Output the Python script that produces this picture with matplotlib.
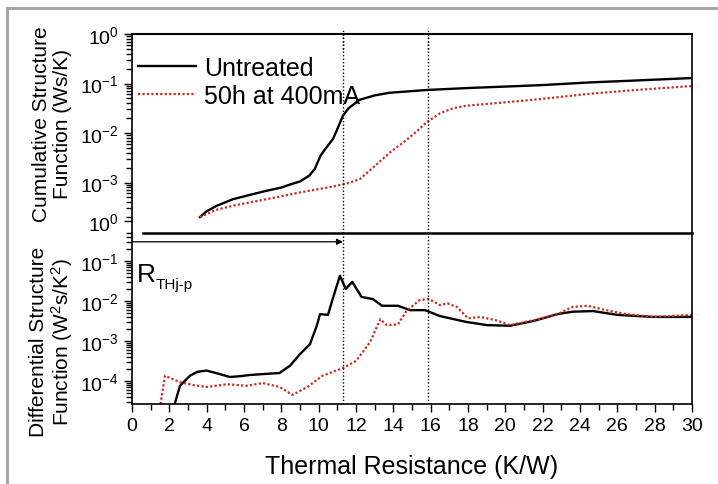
import matplotlib
matplotlib.use("Agg")
import matplotlib.pyplot as plt
from matplotlib.lines import Line2D
from matplotlib.ticker import FixedLocator, MultipleLocator, NullFormatter

plt.rcParams['font.family'] = ['Liberation Sans', 'DejaVu Sans']
plt.rcParams['mathtext.fontset'] = 'custom'
plt.rcParams['mathtext.rm'] = 'Liberation Sans'
plt.rcParams['mathtext.it'] = 'Liberation Sans:italic'
plt.rcParams['mathtext.default'] = 'regular'

# ---- data ----
labels = ["Untreated", "50h at 400mA"]

# cumulative structure function (Ws/K)
cum_untreated_r = [3.64, 4.0, 4.55, 5.41, 6.3, 7.2, 8.0, 8.46, 9.0, 9.5, 9.8,
                   10.1, 10.4, 10.77, 11.0, 11.3, 11.6, 12.2, 13.0, 13.8,
                   15.8, 18.0, 20.1, 22.0, 24.5, 27.0, 30.0]
cum_untreated = [2.0e-4, 2.63e-4, 3.4e-4, 4.6e-4, 5.6e-4, 6.8e-4, 7.9e-4,
                 9.1e-4, 1.05e-3, 1.38e-3, 1.9e-3, 3.5e-3, 5.0e-3, 7.6e-3,
                 1.2e-2, 2.24e-2, 3.16e-2, 4.7e-2, 5.75e-2, 6.5e-2, 7.4e-2,
                 8.1e-2, 8.7e-2, 9.3e-2, 0.105, 0.115, 0.129]
cum_treated_r = [3.64, 4.5, 5.41, 7.2, 9.0, 10.77, 11.5, 12.2, 12.6, 13.2,
                 13.8, 14.7, 15.3, 15.8, 16.5, 17.2, 17.9, 20.1, 22.0, 24.5,
                 27.0, 30.0]
cum_treated = [2.0e-4, 2.8e-4, 3.4e-4, 4.6e-4, 6.3e-4, 8.3e-4, 9.5e-4,
               1.17e-3, 1.58e-3, 2.5e-3, 4.0e-3, 7.2e-3, 1.12e-2, 1.66e-2,
               2.5e-2, 3.16e-2, 3.55e-2, 4.2e-2, 4.9e-2, 6.2e-2, 7.4e-2, 8.9e-2]

# differential structure function (W^2s/K^2)
diff_untreated_r = [2.15, 2.57, 3.1, 3.5, 4.0, 4.5, 5.25, 5.8, 6.3, 7.2, 7.9,
                    8.46, 9.0, 9.53, 9.9, 10.07, 10.5, 10.75, 11.14, 11.45,
                    11.8, 12.3, 12.9, 13.4, 14.25, 14.9, 15.7, 16.5, 17.9,
                    19.0, 20.25, 21.5, 22.8, 23.6, 24.7, 26.0, 27.9, 30.0]
diff_untreated = [1.6e-5, 7.6e-5, 1.35e-4, 1.7e-4, 1.82e-4, 1.58e-4, 1.26e-4,
                  1.32e-4, 1.41e-4, 1.51e-4, 1.58e-4, 2.4e-4, 4.7e-4, 8.3e-4,
                  2.4e-3, 4.7e-3, 4.5e-3, 1.12e-2, 4.3e-2, 2.0e-2, 3.0e-2,
                  1.26e-2, 1.12e-2, 7.6e-3, 7.6e-3, 5.9e-3, 5.9e-3, 4.2e-3,
                  3.0e-3, 2.5e-3, 2.4e-3, 3.16e-3, 4.7e-3, 5.4e-3, 5.6e-3,
                  4.5e-3, 4.0e-3, 4.0e-3]
diff_treated_r = [1.45, 1.77, 2.57, 3.3, 4.0, 5.1, 6.15, 7.0, 7.9, 8.6, 9.4,
                  10.2, 11.3, 12.0, 12.75, 13.3, 13.65, 14.25, 14.7, 15.4,
                  15.9, 16.5, 16.9, 17.4, 18.0, 18.65, 19.5, 20.25, 21.5,
                  22.8, 23.6, 24.4, 25.4, 26.5, 27.9, 30.0]
diff_treated = [1.6e-5, 1.35e-4, 9.3e-5, 7.9e-5, 7.1e-5, 8.3e-5, 7.6e-5,
                8.9e-5, 7.1e-5, 4.5e-5, 7.1e-5, 1.35e-4, 2.1e-4, 3.16e-4,
                9.3e-4, 3.5e-3, 2.5e-3, 2.6e-3, 5.6e-3, 1.05e-2, 1.12e-2,
                7.9e-3, 8.7e-3, 7.1e-3, 3.7e-3, 4.0e-3, 3.3e-3, 2.5e-3,
                3.3e-3, 4.7e-3, 7.1e-3, 7.6e-3, 5.9e-3, 4.7e-3, 4.0e-3, 4.5e-3]

marker_r = [11.3, 15.85]      # dotted guide lines
rth_jp = 11.3                 # end of the R_THj-p arrow

cum_ticks = [1.0, 1e-1, 1e-2, 1e-3, 10 ** -3.78]
cum_ticklabels = ["$10^{0}$", "$10^{-1}$", "$10^{-2}$", "$10^{-3}$", "$10^{0}$"]
diff_ticks = [1e-1, 1e-2, 1e-3, 1e-4]
diff_ticklabels = ["$10^{-1}$", "$10^{-2}$", "$10^{-3}$", "$10^{-4}$"]
minor_ticks = [m * 10.0 ** e for e in range(-5, 1) for m in range(2, 10)]

W, H = 718, 485
red = "#cc2a1e"


def fx(x):
    return x / W


def fy(y):
    return 1 - y / H


fig = plt.figure(figsize=(W / 100, H / 100), dpi=100)
left, right = fx(132), fx(692)
ax_top = fig.add_axes([left, fy(234), right - left, fy(35) - fy(234)])
ax_bot = fig.add_axes([left, fy(405), right - left, fy(234) - fy(405)],
                      sharex=ax_top)

ax_top.plot(cum_untreated_r, cum_untreated, color="black", lw=1.7,
            label=labels[0])
ax_top.plot(cum_treated_r, cum_treated, color=red, lw=1.6,
            ls=(0, (1, 1)), label=labels[1])
ax_bot.plot(diff_untreated_r, diff_untreated, color="black", lw=1.7)
ax_bot.plot(diff_treated_r, diff_treated, color=red, lw=1.6, ls=(0, (1, 1)))

for ax in (ax_top, ax_bot):
    ax.set_yscale("log")
    ax.set_xlim(0, 30)
    for s in ax.spines.values():
        s.set_linewidth(1.2)
    ax.tick_params(which="both", direction="out", width=1.0, labelsize=14)
    ax.tick_params(which="major", length=6)
    ax.tick_params(which="minor", length=4)
    ax.yaxis.set_minor_locator(FixedLocator(minor_ticks))
    ax.yaxis.set_minor_formatter(NullFormatter())
    for r in marker_r:
        ax.axvline(r, color="black", lw=1.0, ls=(0, (1, 1.5)))

ax_top.set_ylim(10 ** -4.02, 1.0)
ax_top.yaxis.set_major_locator(FixedLocator(cum_ticks))
ax_top.set_yticklabels(cum_ticklabels)
ax_top.spines["bottom"].set_visible(False)
ax_top.spines["top"].set_linewidth(1.5)
ax_top.tick_params(axis="x", which="both", bottom=False, labelbottom=False)
# guide lines poke above the frame
for r in marker_r:
    ax_top.plot([r, r], [0.5, 10 ** 0.12], color="black", lw=1.0,
                ls=(0, (1, 1.5)), clip_on=False)

ax_bot.set_ylim(10 ** -4.575, 10 ** -0.3)
ax_bot.yaxis.set_major_locator(FixedLocator(diff_ticks))
ax_bot.set_yticklabels(diff_ticklabels)
ax_bot.spines["top"].set_visible(False)
ax_bot.xaxis.set_major_locator(MultipleLocator(2))
ax_bot.xaxis.set_minor_locator(MultipleLocator(1))
ax_bot.set_xlabel("Thermal Resistance (K/W)", fontsize=18, labelpad=14)

# separator between the two panels
ax_bot.plot([0.6, 30], [10 ** -0.3, 10 ** -0.3], color="black", lw=1.8,
            clip_on=False)

# R_THj-p arrow
ax_bot.annotate("", xy=(rth_jp, 10 ** -0.52), xytext=(0, 10 ** -0.52),
                arrowprops=dict(arrowstyle="-|>", color="black", lw=0.9,
                                mutation_scale=9, shrinkA=0, shrinkB=0))
fig.text(fx(137), fy(282), "R", fontsize=19, ha="left", va="baseline")
fig.text(fx(156), fy(289), "THj-p", fontsize=11, ha="left", va="baseline")

ax_top.legend(loc="upper left", bbox_to_anchor=(fx(138), fy(57)),
              bbox_transform=fig.transFigure, frameon=False, fontsize=18,
              handlelength=2.3, handletextpad=0.35, labelspacing=0.15,
              borderpad=0, borderaxespad=0)

fig.text(fx(52), fy(124), "Cumulative Structure\nFunction (Ws/K)",
         rotation=90, ha="center", va="center", fontsize=15,
         multialignment="center", linespacing=1.1)
fig.text(fx(52), fy(342), "Differential Structure\nFunction (W$^2$s/K$^2$)",
         rotation=90, ha="center", va="center", fontsize=15,
         multialignment="center", linespacing=1.1)

# grey frame of the original figure
fig.add_artist(Line2D([fx(7), 1], [fy(9), fy(9)], color="#a6a6a6", lw=2.2))
fig.add_artist(Line2D([fx(7), fx(7)], [fy(9), 0], color="#a6a6a6", lw=2.2))

fig.savefig("out.png", dpi=100)
